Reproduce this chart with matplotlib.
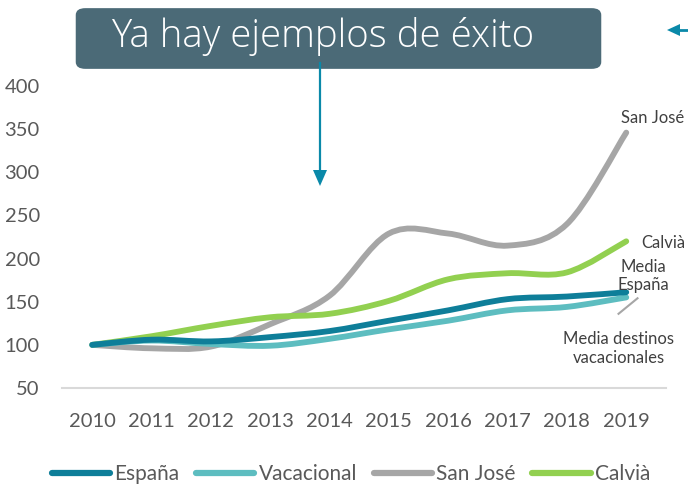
import numpy as np
import matplotlib as mpl
import matplotlib.pyplot as plt
from matplotlib.path import Path
from matplotlib.patches import PathPatch, FancyBboxPatch
from matplotlib.lines import Line2D

mpl.rcParams['font.family'] = ['Lato', 'DejaVu Sans']

years = [2010, 2011, 2012, 2013, 2014, 2015, 2016, 2017, 2018, 2019]
espana = [100, 106, 104, 109, 116, 128, 140, 153, 156, 161]
vacacional = [100, 105, 101, 99, 107, 118, 128, 140, 144, 155]
san_jose = [100, 96, 98, 124, 157, 229, 229, 215, 240, 346]
calvia = [100, 110, 122, 132, 136, 151, 176, 183, 184, 220]

series = [
    ('España', espana, '#0E7E99'),
    ('Vacacional', vacacional, '#5DBDC0'),
    ('San José', san_jose, '#A6A6A6'),
    ('Calvià', calvia, '#92D050'),
]
draw_order = ['San José', 'Calvià', 'Vacacional', 'España']


def smooth_path(x, y):
    # Catmull-Rom style bezier segments, like a spreadsheet "smoothed line"
    pts = np.column_stack([x, y]).astype(float)
    n = len(pts)
    verts = [pts[0]]
    codes = [Path.MOVETO]
    for i in range(n - 1):
        p0 = pts[max(i - 1, 0)]
        p1 = pts[i]
        p2 = pts[i + 1]
        p3 = pts[min(i + 2, n - 1)]
        verts += [p1 + (p2 - p0) / 6, p2 - (p3 - p1) / 6, p2]
        codes += [Path.CURVE4] * 3
    return Path(verts, codes)


fig = plt.figure(figsize=(6.88, 4.88), dpi=100)
W, H = 688, 488
ax = fig.add_axes([62 / W, (H - 388) / H, (666 - 62) / W, (388 - 86) / H])

colors = {name: c for name, _, c in series}
values = {name: v for name, v, _ in series}
for name in draw_order:
    patch = PathPatch(smooth_path(years, values[name]), facecolor='none',
                      edgecolor=colors[name], lw=4.2, capstyle='round',
                      joinstyle='round')
    ax.add_patch(patch)

ax.set_xlim(2009.49, 2019.67)
ax.set_ylim(50, 400)
ax.set_yticks(range(50, 401, 50))
ax.set_xticks(years)
ax.tick_params(length=0, labelsize=14.5, labelcolor='#595959')
ax.tick_params(axis='y', pad=16)
ax.tick_params(axis='x', pad=18)
for side in ['top', 'right', 'left']:
    ax.spines[side].set_visible(False)
ax.spines['bottom'].set_color('#D9D9D9')
ax.spines['bottom'].set_linewidth(1.5)

# series labels at the right end
lab = dict(fontsize=12, color='#404040')
ax.text(2019.45, 363, 'San José', ha='center', va='center', clip_on=False, **lab)
ax.text(2019.25, 218, 'Calvià', ha='left', va='center', clip_on=False, **lab)
ax.text(2019.29, 180, 'Media\nEspaña', ha='center', va='center',
        linespacing=1.2, clip_on=False, **lab)
ax.text(2018.87, 96, 'Media destinos\nvacacionales', ha='center',
        va='center', linespacing=1.2, clip_on=False, **lab)
ax.plot([2018.87, 2019.19], [136, 154], color='#A6A6A6', lw=1.5,
        clip_on=False)

# heading box
box = FancyBboxPatch((84 / W, (H - 63) / H), (593 - 84) / W, (63 - 14) / H,
                     boxstyle='round,pad=0.012,rounding_size=0.014',
                     transform=fig.transFigure, facecolor='#4B6A77',
                     edgecolor='none')
fig.patches.append(box)
fig.text(111 / W, (H - 36) / H, 'Ya hay ejemplos de éxito', color='white',
         fontsize=27.6, family=['Open Sans', 'DejaVu Sans'], fontweight='light',
         ha='left', va='center')

arrow_c = '#0A89A9'
fig.add_artist(plt.Line2D([320 / W, 320 / W], [(H - 63) / H, (H - 172) / H],
                          transform=fig.transFigure, color=arrow_c, lw=1.6))
fig.patches.append(mpl.patches.Polygon(
    [[313 / W, (H - 170) / H], [327 / W, (H - 170) / H], [320 / W, (H - 186) / H]],
    closed=True, transform=fig.transFigure, facecolor=arrow_c,
    edgecolor='none'))
fig.add_artist(plt.Line2D([678 / W, 1.0], [(H - 30) / H, (H - 30) / H],
                          transform=fig.transFigure, color=arrow_c, lw=2))
fig.patches.append(mpl.patches.Polygon(
    [[667 / W, (H - 30) / H], [680 / W, (H - 24) / H], [680 / W, (H - 36) / H]],
    closed=True, transform=fig.transFigure, facecolor=arrow_c,
    edgecolor='none'))

handles = [Line2D([], [], color=c, lw=4.5, solid_capstyle='round')
           for _, _, c in series]
fig.legend(handles, [n for n, _, _ in series], loc='center', ncol=4,
           bbox_to_anchor=(351 / W, (H - 474) / H), frameon=False,
           fontsize=15, labelcolor='#595959', handlelength=2.8,
           handletextpad=0.2, columnspacing=0.8)

fig.savefig('out.png', dpi=100)
